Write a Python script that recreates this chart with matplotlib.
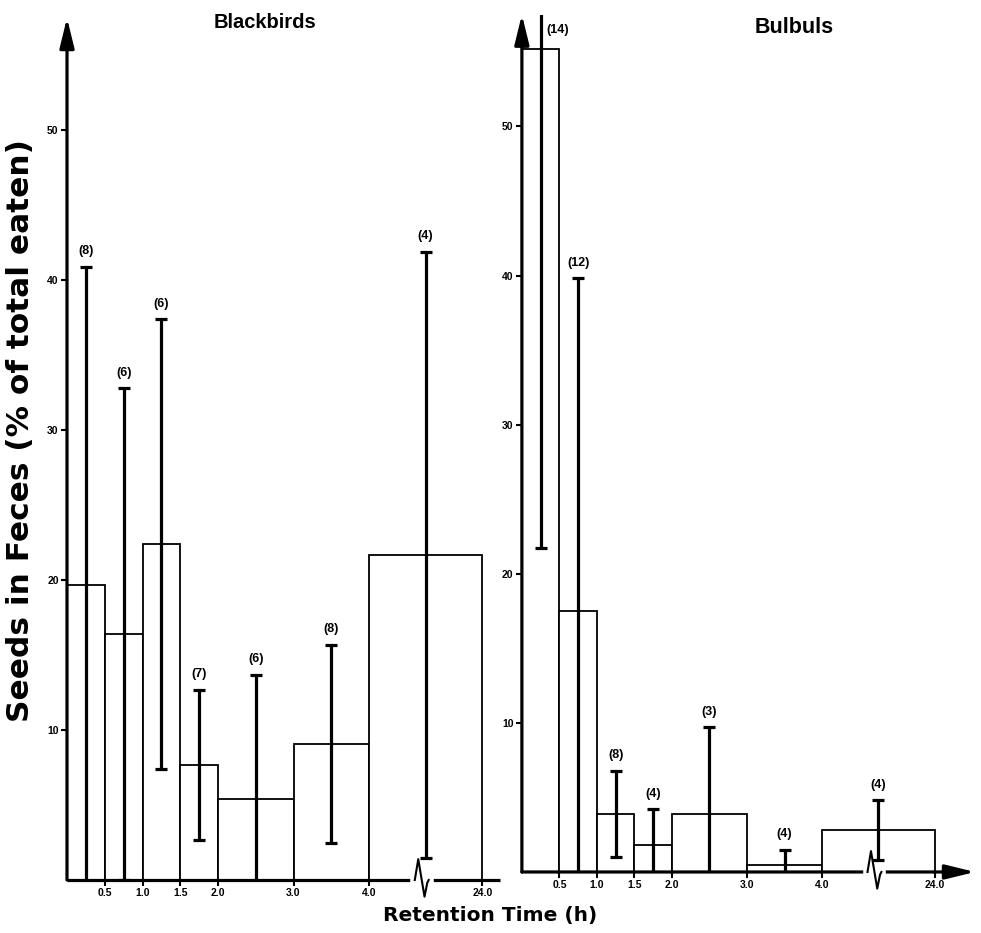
import numpy as np
import matplotlib
matplotlib.use("Agg")
import matplotlib.pyplot as plt
import matplotlib.transforms as mtransforms
from matplotlib.lines import Line2D

plt.rcParams['font.family'] = ['Liberation Sans', 'DejaVu Sans']

# bin edges of retention time (h)
edges = [0.0, 0.5, 1.0, 1.5, 2.0, 3.0, 4.0, 24.0]
edge_labels = ["0.5", "1.0", "1.5", "2.0", "3.0", "4.0", "24.0"]

# Blackbirds: mean % of seeds, SD, sample size
bb_mean = [19.7, 16.4, 22.4, 7.7, 5.4, 9.1, 21.7]
bb_sd = [21.2, 16.4, 15.0, 5.0, 8.3, 6.6, 20.2]
bb_n = ["(8)", "(6)", "(6)", "(7)", "(6)", "(8)", "(4)"]

# Bulbuls
bu_mean = [55.2, 17.5, 3.9, 1.8, 3.9, 0.5, 2.8]
bu_sd = [33.5, 22.3, 2.9, 2.4, 5.8, 1.0, 2.0]
bu_n = ["(14)", "(12)", "(8)", "(4)", "(3)", "(4)", "(4)"]

yticks = [10, 20, 30, 40, 50]


# broken time axis: 4-24 h squeezed
def fwd(v):
    v = np.asarray(v, dtype=float)
    return np.where(v <= 4, v, 4 + (v - 4) * 0.075)


def inv(d):
    d = np.asarray(d, dtype=float)
    return np.where(d <= 4, d, 4 + (d - 4) / 0.075)


def draw_panel(ax, means, sds, ns, xmax, x_arrow, top_label_first=False):
    ax.set_xscale('function', functions=(fwd, inv))
    e = np.array(edges)
    left = e[:-1]
    widths = e[1:] - e[:-1]
    mids = (e[:-1] + e[1:]) / 2
    ax.bar(left, means, width=widths, align='edge', facecolor='white',
           edgecolor='black', linewidth=1.3, zorder=2)
    ax.errorbar(mids, means, yerr=sds, fmt='none', ecolor='black',
                elinewidth=2.3, capsize=4.5, capthick=2.3, zorder=3)
    for i, (m, s, lab) in enumerate(zip(means, sds, ns)):
        top = m + s
        if top_label_first and i == 0:
            tr = mtransforms.blended_transform_factory(ax.transData, ax.transAxes)
            ax.annotate(lab, xy=(mids[i], 0.982), xycoords=tr,
                        xytext=(4, 0), textcoords='offset points',
                        ha='left', va='center', fontsize=9,
                        fontweight='bold')
        else:
            ax.annotate(lab, xy=(mids[i], top), xytext=(0, 7),
                        textcoords='offset points', ha='center',
                        va='bottom', fontsize=9, fontweight='bold')

    ax.set_xlim(0, xmax)
    ax.set_ylim(0, 57.5)
    ax.set_xticks(e[1:])
    ax.set_xticklabels(edge_labels)
    ax.set_yticks(yticks)
    ax.set_yticklabels([str(t) for t in yticks])
    ax.tick_params(axis='both', direction='out', length=4, width=1.5,
                   labelsize=7.5, pad=2)
    for lab in ax.get_xticklabels() + ax.get_yticklabels():
        lab.set_fontweight('bold')
    ax.minorticks_off()
    for s in ['top', 'right', 'left', 'bottom']:
        ax.spines[s].set_visible(False)

    arrow = dict(arrowstyle='-|>,head_length=0.9,head_width=0.22',
                 lw=2.3, color='black', mutation_scale=20,
                 shrinkA=0, shrinkB=0)
    # y axis with arrow
    ax.annotate('', xy=(0, 1.0), xytext=(0, 0), xycoords='axes fraction',
                arrowprops=arrow, annotation_clip=False)
    # x axis
    if x_arrow:
        ax.annotate('', xy=(1.0, 0), xytext=(0, 0), xycoords='axes fraction',
                    arrowprops=arrow, annotation_clip=False)
    else:
        ax.plot([0, 1], [0, 0], transform=ax.transAxes, color='black',
                lw=2.3, clip_on=False, solid_capstyle='butt')

    # axis break squiggle between 4 and 24 h
    xb = inv(4 + 0.68)
    base = mtransforms.blended_transform_factory(ax.transData, ax.transAxes)
    pts = np.array([[-4, 0], [-1.5, 15], [1, 0], [3, -12],
                    [5, -2], [6, 0]]) / 72.0
    pix = []
    for px, py in pts:
        t = base + mtransforms.ScaledTranslation(px, py, ax.figure.dpi_scale_trans)
        pix.append(t.transform((xb, 0)))
    fig_pts = ax.figure.transFigure.inverted().transform(np.array(pix))
    ax.figure.lines.append(Line2D(
        [fig_pts[0, 0] - 0.002, fig_pts[-1, 0] + 0.002], [fig_pts[0, 1]] * 2,
        transform=ax.figure.transFigure, color='white', lw=4, zorder=5))
    ax.figure.lines.append(Line2D(
        fig_pts[:, 0], fig_pts[:, 1], transform=ax.figure.transFigure,
        color='black', lw=1.5, zorder=6))


fig = plt.figure(figsize=(9.81, 9.33), dpi=100)
ax1 = fig.add_axes([0.0683, 0.0568, 0.441, 0.924])
ax2 = fig.add_axes([0.532, 0.0654, 0.462, 0.919])

draw_panel(ax1, bb_mean, bb_sd, bb_n, xmax=float(inv(5.73)), x_arrow=False)
draw_panel(ax2, bu_mean, bu_sd, bu_n, xmax=float(inv(6.04)), x_arrow=True,
           top_label_first=True)

fig.text(0.27, 0.976, "Blackbirds", ha='center', va='center',
         fontsize=14.5, fontweight='bold')
fig.text(0.81, 0.971, "Bulbuls", ha='center', va='center',
         fontsize=15.5, fontweight='bold')
fig.text(0.021, 0.539, "Seeds in Feces (% of total eaten)", rotation=90,
         ha='center', va='center', fontsize=22.5, fontweight='bold',
         family='DejaVu Sans')
fig.text(0.5, 0.019, "Retention Time (h)", ha='center', va='center',
         fontsize=14.5, fontweight='bold', family='DejaVu Sans')

fig.savefig("out.png", dpi=100)
